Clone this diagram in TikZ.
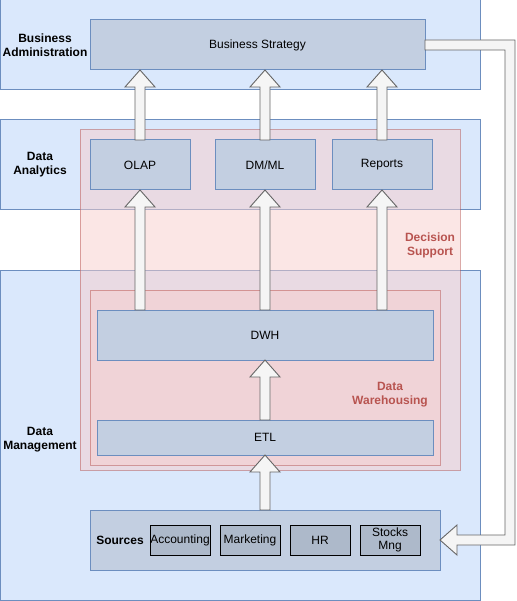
\documentclass[tikz,border=0pt]{standalone}
\usepackage{fontspec}
\setmainfont{Liberation Sans}
\usetikzlibrary{positioning,calc}
\definecolor{panelfill}{HTML}{DAE8FC}
\definecolor{panelline}{HTML}{6C8EBF}
\definecolor{boxfill}{HTML}{C3CFE1}
\definecolor{itemfill}{HTML}{ADB9CA}
\definecolor{redfill}{HTML}{F8CECC}
\definecolor{redline}{HTML}{B85450}
\definecolor{arrowfill}{HTML}{F5F5F5}
\definecolor{arrowline}{HTML}{666666}

\newcommand{\blockup}[2]{%
  \filldraw[blockarrow] let \p1=(#1), \p2=(#2) in
    (\x1-5pt,\y1) -- (\x1-5pt,\y2-17pt) -- (\x1-15pt,\y2-17pt) -- (\x1,\y2)
    -- (\x1+15pt,\y2-17pt) -- (\x1+5pt,\y2-17pt) -- (\x1+5pt,\y1) -- cycle;}

\begin{document}
\begin{tikzpicture}[x=1pt, y=-1pt, font=\fontsize{12}{14}\selectfont, line width=1pt, outer sep=0]
\tikzstyle{panel}=[draw=panelline, fill=panelfill, anchor=north west, inner sep=0]
\tikzstyle{area}=[draw=redline, draw opacity=0.5, fill=redfill, fill opacity=0.5, anchor=north west, inner sep=0]
\tikzstyle{box}=[draw=panelline, fill=boxfill, anchor=north west, inner sep=0]
\tikzstyle{item}=[draw=black, fill=itemfill, minimum width=60, minimum height=30, inner sep=0, align=center, font=\fontsize{12}{13}\selectfont]
\tikzstyle{title}=[font=\fontsize{12}{14}\selectfont\bfseries, align=center]
\tikzstyle{blockarrow}=[draw=arrowline, fill=arrowfill, line width=0.9pt]

\useasboundingbox (0,0) rectangle (516,601);

% layers
\node[panel, minimum width=480, minimum height=90]  (ba) at (0,0)   {};
\node[panel, minimum width=480, minimum height=90]  (da) at (0,120) {};
\node[panel, minimum width=480, minimum height=330] (dm) at (0,270) {};
\node[title] (balabel) at (45,45)  {Business\\Administration};
\node[title] (dalabel) at (40,165) {Data\\Analytics};
\node[title] (dmlabel) at (40,440) {Data\\Management};

% decision support / warehousing
\node[area, minimum width=380, minimum height=340] (ds) at (80,130) {};
\node[area, minimum width=350, minimum height=175] (dw) at (90,290) {};
\node[title, text=redline] (dslabel) at (430,245) {Decision\\Support};
\node[title, text=redline] (dwlabel) at (390,395) {Data\\Warehousing};

% boxes
\node[box, minimum width=335, minimum height=50] (bs) at (90,20) {Business Strategy};
\node[box, minimum width=100, minimum height=50] (olap) at (90,140) {OLAP};
\node[box, minimum width=100, minimum height=50] (dmml) [right=25 of olap] {DM/ML};
\node[box, minimum width=100, minimum height=50] (rep) [right=17 of dmml] {Reports};
\node[box, minimum width=336, minimum height=50] (dwh) at (97,310) {DWH};
\node[box, minimum width=336, minimum height=35] (etl) at (97,420) {ETL};
\node[box, minimum width=350, minimum height=60] (src) at (90,510) {};
\node[title] (srclabel) at (120,540) {Sources};
\node[item] (acc) at (180,540)    {Accounting};
\node[item] (mkt) [right=10 of acc] {Marketing};
\node[item] (hr)  [right=10 of mkt] {HR};
\node[item] (stk) [right=10 of hr]  {Stocks\\Mng};

% arrows
\blockup{olap.north}{olap.north |- bs.south}
\blockup{dmml.north}{dmml.north |- bs.south}
\blockup{rep.north}{rep.north |- bs.south}
\blockup{olap.north |- dwh.north}{olap.south}
\blockup{dmml.north |- dwh.north}{dmml.south}
\blockup{rep.north |- dwh.north}{rep.south}
\blockup{etl.north}{dwh.south}
\blockup{src.north}{etl.south}

% feedback
\coordinate (turn) at (510,0);
\filldraw[blockarrow] let \p1=(bs.east), \p2=(src.east), \p3=(turn) in
  (\x1,\y1+5pt) -- (\x3+5pt,\y1+5pt) -- (\x3+5pt,\y2-5pt) -- (\x2+17pt,\y2-5pt)
  -- (\x2+17pt,\y2-15pt) -- (\x2,\y2) -- (\x2+17pt,\y2+15pt) -- (\x2+17pt,\y2+5pt)
  -- (\x3-5pt,\y2+5pt) -- (\x3-5pt,\y1-5pt) -- (\x1,\y1-5pt) -- cycle;
\end{tikzpicture}
\end{document}
